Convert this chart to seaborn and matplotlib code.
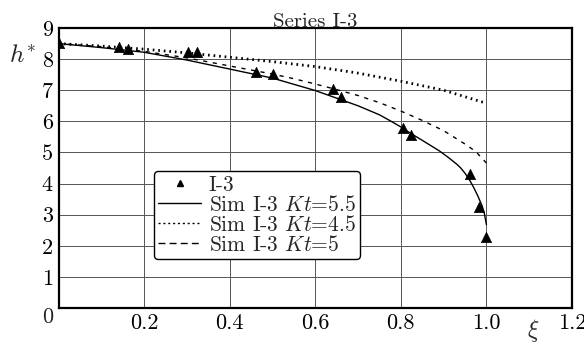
import numpy as np
import pandas as pd
import matplotlib
matplotlib.use("Agg")
import matplotlib.pyplot as plt
import seaborn as sns
from matplotlib.lines import Line2D

# measured points, series I-3
xi_exp = [0.0, 0.141, 0.162, 0.302, 0.323, 0.461, 0.501, 0.641, 0.661, 0.804, 0.823, 0.962, 0.983, 1.0]
h_exp = [8.52, 8.39, 8.33, 8.22, 8.22, 7.59, 7.52, 7.04, 6.78, 5.79, 5.56, 4.31, 3.25, 2.28]

# simulated curves
xi_k55 = [0.0, 0.1, 0.2, 0.3, 0.4, 0.5, 0.6, 0.7, 0.75, 0.78, 0.8, 0.82, 0.85, 0.87, 0.89,
          0.91, 0.93, 0.94, 0.95, 0.96, 0.97, 0.98, 0.99, 0.995, 1.0]
h_k55 = [8.5, 8.37, 8.22, 7.97, 7.68, 7.39, 6.99, 6.5, 6.21, 5.98, 5.82, 5.64, 5.39, 5.22, 5.05,
         4.85, 4.63, 4.5, 4.33, 4.13, 3.88, 3.6, 3.28, 3.05, 2.68]

xi_k45 = [0.0, 0.1, 0.2, 0.3, 0.4, 0.5, 0.6, 0.7, 0.8, 0.9, 1.0]
h_k45 = [8.5, 8.42, 8.32, 8.2, 8.06, 7.92, 7.76, 7.55, 7.29, 7.0, 6.58]

xi_k5 = [0.0, 0.1, 0.2, 0.3, 0.4, 0.5, 0.55, 0.6, 0.65, 0.7, 0.75, 0.8, 0.85, 0.9, 0.95, 0.975, 1.0]
h_k5 = [8.5, 8.4, 8.25, 8.04, 7.78, 7.52, 7.37, 7.2, 7.02, 6.83, 6.6, 6.33, 6.03, 5.7, 5.27, 5.03, 4.66]

x_ticks = [0.2, 0.4, 0.6, 0.8, 1.0, 1.2]
x_ticklabels = ["0.2", "0.4", "0.6", "0.8", "1.0", "1.2"]
y_ticks = [1, 2, 3, 4, 5, 6, 7, 8, 9]

sns.set_theme(style="whitegrid")
plt.rcParams["font.family"] = "serif"
plt.rcParams["font.serif"] = ["cmr10", "DejaVu Serif"]
plt.rcParams["mathtext.fontset"] = "cm"
plt.rcParams["axes.unicode_minus"] = False

fig = plt.figure(figsize=(5.84, 3.44), dpi=100)
ax = fig.add_axes([58.5 / 584, 36 / 344, 513.5 / 584, 280 / 344])
ax.set_facecolor("white")

sns.lineplot(x=xi_k55, y=h_k55, ax=ax, color="black", linewidth=1.0, estimator=None)
sns.lineplot(x=xi_k45, y=h_k45, ax=ax, color="black", linewidth=2.0, estimator=None,
             linestyle=(0, (0.6, 1.4)))
sns.lineplot(x=xi_k5, y=h_k5, ax=ax, color="black", linewidth=1.0, estimator=None,
             linestyle=(0, (3, 4)))
sns.scatterplot(x=xi_exp, y=h_exp, ax=ax, color="black", marker="^", s=55,
                edgecolor="black", linewidth=0.5, zorder=5)

ax.set_xlim(0, 1.2)
ax.set_ylim(0, 9)
ax.set_xticks(x_ticks)
ax.set_xticklabels(x_ticklabels)
ax.set_yticks(y_ticks)
ax.set_yticklabels([str(v) for v in y_ticks])
ax.tick_params(axis="both", length=0, labelsize=16, colors="black")
ax.tick_params(axis="x", pad=4)
ax.tick_params(axis="y", pad=4)
ax.grid(True, color="#555555", linewidth=0.7)
for side in ["left", "bottom", "top", "right"]:
    ax.spines[side].set_color("black")
    ax.spines[side].set_linewidth(1.6)

ax.text(-0.022, -0.032, "0", transform=ax.transAxes, ha="center", va="center", fontsize=16)
fig.text(23 / 584, 1 - 56 / 344, r"$h^{*}$", ha="center", va="center", fontsize=18)
fig.text(533 / 584, 1 - 331 / 344, r"$\xi$", ha="center", va="center", fontsize=17)
ax.set_title("Series I-3", fontsize=15, pad=1)

handles = [
    Line2D([], [], color="black", marker="^", linestyle="none", markersize=4),
    Line2D([], [], color="black", linewidth=1.0),
    Line2D([], [], color="black", linewidth=1.0, linestyle=(0, (1.5, 2))),
    Line2D([], [], color="black", linewidth=1.0, linestyle=(0, (5, 3))),
]
labels = ["I-3", r"Sim I-3 $Kt$=5.5", r"Sim I-3 $Kt$=4.5", r"Sim I-3 $Kt$=5"]
leg = ax.legend(handles, labels, loc="lower left", bbox_to_anchor=(0.186, 0.175),
                fontsize=15.5, frameon=True, fancybox=True, framealpha=1,
                edgecolor="black", handlelength=2.0, handletextpad=0.35,
                labelspacing=0.0, borderpad=0.2, borderaxespad=0)
leg.get_frame().set_linewidth(1.0)

fig.savefig("out.png", dpi=100)
